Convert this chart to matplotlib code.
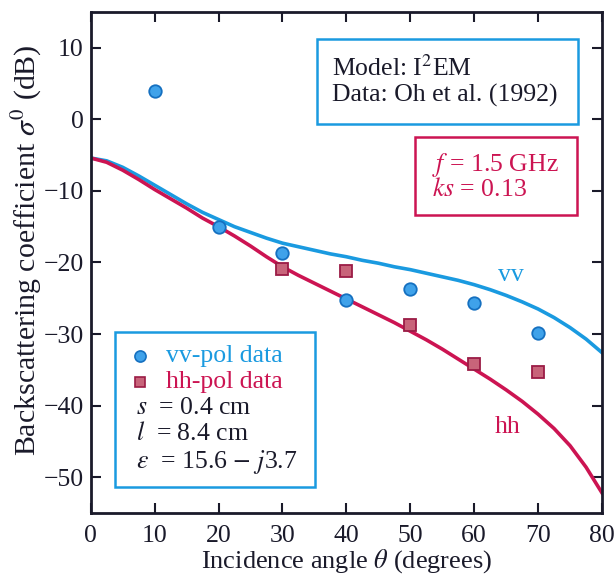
import numpy as np
import matplotlib
matplotlib.use("Agg")
import matplotlib.pyplot as plt
from matplotlib.patches import Rectangle

# model curves (I2EM)
theta = [0, 2.5, 5, 7.5, 10, 12.5, 15, 17.5, 20, 22.5, 25, 27.5, 30, 32.5, 35, 37.5,
         40, 42.5, 45, 47.5, 50, 52.5, 55, 57.5, 60, 62.5, 65, 67.5, 70, 72.5, 75, 77.5, 80]
vv_model = [-5.4, -5.8, -6.7, -7.9, -9.2, -10.5, -11.8, -13.0, -14.0, -15.0, -15.8, -16.6,
            -17.3, -17.8, -18.3, -18.8, -19.2, -19.7, -20.1, -20.6, -21.0, -21.5, -22.0,
            -22.5, -23.1, -23.8, -24.6, -25.5, -26.5, -27.7, -29.1, -30.7, -32.6]
hh_model = [-5.4, -6.0, -7.1, -8.4, -9.8, -11.1, -12.4, -13.8, -15.0, -16.3, -17.7, -19.2,
            -20.6, -21.8, -22.9, -24.0, -25.1, -26.2, -27.3, -28.4, -29.6, -30.8, -32.1,
            -33.5, -34.9, -36.3, -37.8, -39.4, -41.2, -43.2, -45.6, -48.6, -52.2]

# measured data (Oh et al. 1992)
vv_angle = [10, 20, 30, 40, 50, 60, 70]
vv_data = [4.0, -15.0, -18.7, -25.2, -23.7, -25.7, -29.8]
hh_angle = [30, 40, 50, 60, 70]
hh_data = [-20.9, -21.2, -28.8, -34.2, -35.3]

BLUE = '#1a9ae0'
RED = '#cc1452'
INK = '#1a1a2a'
FS = 18.5

plt.rcParams['font.family'] = ['Liberation Serif', 'DejaVu Serif']
plt.rcParams['mathtext.fontset'] = 'stix'

fig = plt.figure(figsize=(6.15, 5.84), dpi=100)
ax = fig.add_axes([0.1475, 0.1216, 0.8314, 0.8579])

ax.plot(theta, vv_model, color=BLUE, lw=2.6, solid_joinstyle='round')
ax.plot(theta, hh_model, color=RED, lw=2.6, solid_joinstyle='round')
ax.plot(vv_angle, vv_data, 'o', ms=9, mfc='#3fa2ea', mec='#1570c0', mew=1.3, zorder=5)
ax.plot(hh_angle, hh_data, 's', ms=8.5, mfc='#c8647a', mec='#9b1b45', mew=1.3, zorder=5)

ax.text(65.7, -21.7, 'vv', color=BLUE, fontsize=FS, ha='center', va='center')
ax.text(65.3, -43, 'hh', color=RED, fontsize=FS, ha='center', va='center')

ax.set_xlim(0, 80)
ax.set_ylim(-55, 15)
ax.set_xticks(np.arange(0, 81, 10))
ax.set_yticks(np.arange(-50, 11, 10))
ax.set_yticklabels(['\u221250', '\u221240', '\u221230', '\u221220', '\u221210', '0', '10'])
ax.tick_params(direction='in', length=7, width=1.5, top=True, right=True,
               labelsize=18.5, colors=INK)
ax.tick_params(axis='x', pad=9)
ax.tick_params(axis='y', pad=5)
for s in ax.spines.values():
    s.set_linewidth(2)
    s.set_color(INK)

ax.set_xlabel(r'Incidence angle $\theta$ (degrees)', fontsize=19, color=INK, labelpad=0)
ax.set_ylabel(r'Backscattering coefficient $\sigma^0$ (dB)', fontsize=21.5, color=INK,
              labelpad=0, y=0.525)

tr = ax.transAxes
# model / data box
ax.add_patch(Rectangle((0.4426, 0.7764), 0.5104, 0.1696, transform=tr, fill=False,
                       ec=BLUE, lw=1.8, zorder=6))
ax.text(0.472, 0.888, r'Model: I$^2$EM', transform=tr, fontsize=FS, va='center', color=INK)
ax.text(0.472, 0.834, 'Data: Oh et al. (1992)', transform=tr, fontsize=FS, va='center', color=INK)

# frequency box
ax.add_patch(Rectangle((0.634, 0.5948), 0.317, 0.1557, transform=tr, fill=False,
                       ec=RED, lw=1.8, zorder=6))
ax.text(0.667, 0.6946, r'$f$ = 1.5 GHz', transform=tr, fontsize=FS, va='center', color=RED)
ax.text(0.667, 0.6447, r'$ks$ = 0.13', transform=tr, fontsize=FS, va='center', color=RED)

# legend / parameter box
ax.add_patch(Rectangle((0.0475, 0.0519), 0.3915, 0.3101, transform=tr, fc='white',
                       ec=BLUE, lw=1.8, zorder=6))
ax.plot([0.096], [0.3134], 'o', ms=8, mfc='#3fa2ea', mec='#1570c0', mew=1.2,
        transform=tr, zorder=7, clip_on=False)
ax.plot([0.096], [0.262], 's', ms=7.5, mfc='#c8647a', mec='#9b1b45', mew=1.2,
        transform=tr, zorder=7, clip_on=False)
ax.text(0.147, 0.3134, 'vv-pol data', transform=tr, fontsize=FS, va='center', color=BLUE, zorder=7)
ax.text(0.147, 0.262, 'hh-pol data', transform=tr, fontsize=FS, va='center', color=RED, zorder=7)
ax.text(0.088, 0.2102, r'$s$  = 0.4 cm', transform=tr, fontsize=FS, va='center', color=INK, zorder=7)
ax.text(0.088, 0.1577, r'$l$  = 8.4 cm', transform=tr, fontsize=FS, va='center', color=INK, zorder=7)
ax.text(0.088, 0.1024, r'$\varepsilon$  = 15.6 $-$ $j$3.7', transform=tr, fontsize=FS,
        va='center', color=INK, zorder=7)

fig.savefig('out.png', dpi=100)
